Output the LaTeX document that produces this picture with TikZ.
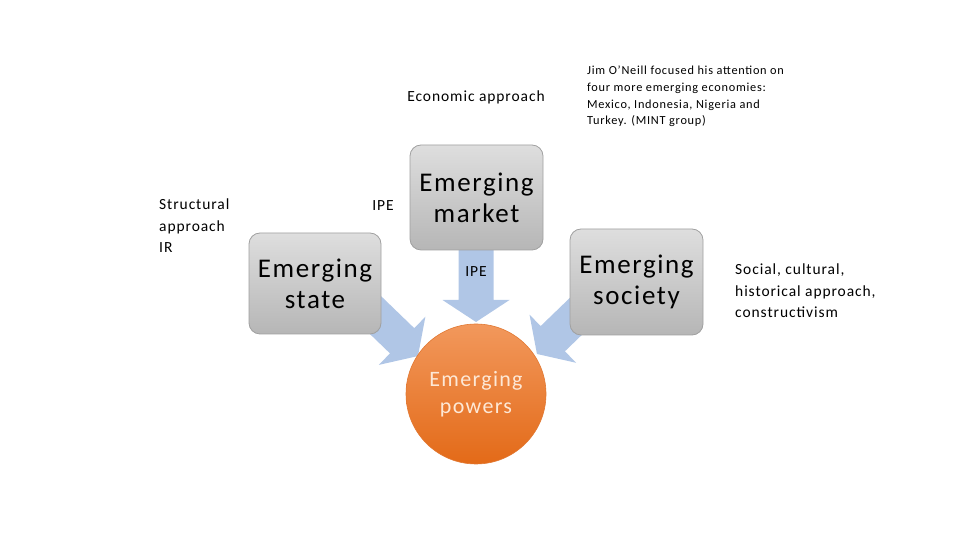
\documentclass[tikz,border=0pt]{standalone}
\usepackage{fontspec}
\setmainfont{Carlito}[LetterSpace=6]
\definecolor{boxborder}{RGB}{160,160,160}
\definecolor{boxtop}{RGB}{222,222,222}
\definecolor{boxbottom}{RGB}{182,182,182}
\definecolor{circborder}{RGB}{225,120,50}
\definecolor{circtop}{RGB}{242,152,92}
\definecolor{circbottom}{RGB}{227,106,24}
\definecolor{circtext}{RGB}{253,232,214}
\definecolor{arrowcol}{RGB}{176,198,230}
\begin{document}
\begin{tikzpicture}[x=1pt,y=1pt,
  box/.style={draw=boxborder, line width=0.8pt, rounded corners=11pt,
    top color=boxtop, bottom color=boxbottom,
    align=center, font=\fontsize{27}{31}\selectfont, inner sep=0pt},
  powernode/.style={circle, draw=circborder, line width=0.6pt,
    top color=circtop, bottom color=circbottom,
    minimum size=140pt, align=center, inner sep=0pt,
    text=circtext, font=\fontsize{22}{27}\selectfont},
  lbl/.style={font=\fontsize{15.5}{21.5}\selectfont, inner sep=0pt},
  arrowfill/.style={fill=arrowcol}
]
\useasboundingbox (0,0) rectangle (960,540);
\newcommand\blockarrow[3]{\fill[arrowfill, shift={#1}, rotate=#2] (0,-17.5) -- (#3-22,-17.5) -- (#3-22,-33.5) -- (#3,0) -- (#3-22,33.5) -- (#3-22,17.5) -- (0,17.5) -- cycle;}
% coordinates for block arrows
\coordinate (amarket) at (476,295);
\coordinate (astate) at (360.4,239.5);
\coordinate (asociety) at (594.5,241.6);
\blockarrow{(amarket)}{-90}{77}
\blockarrow{(astate)}{-44}{80}
\blockarrow{(asociety)}{-136}{80}
% nodes
\node[box, minimum width=133pt, minimum height=105pt] (market) at (476.5,342.5) {Emerging\\market};
\node[box, minimum width=132pt, minimum height=101pt] (state) at (315,256.5) {Emerging\\state};
\node[box, minimum width=133pt, minimum height=106pt] (society) at (636.5,258) {Emerging\\society};
\node[powernode] (powers) at (476,146) {Emerging\\powers};
% labels
\node[lbl] (econ) at (476,443) {Economic approach};
\node[lbl] (ipe1) at (383,334) {IPE};
\node[lbl] (ipe2) at (476,268) {IPE};
\node[lbl, anchor=north west, align=left] (struct) at (159,341) {Structural\\approach\\IR};
\node[anchor=north west, align=left, inner sep=0pt, font=\fontsize{12.3}{16.7}\selectfont] (jim) at (587,474) {Jim O’Neill focused his attention on\\four more emerging economies:\\Mexico, Indonesia, Nigeria and\\Turkey. (MINT group)};
\node[lbl, anchor=north west, align=left] (social) at (735,276) {Social, cultural,\\historical approach,\\constructivism};
\end{tikzpicture}
\end{document}
